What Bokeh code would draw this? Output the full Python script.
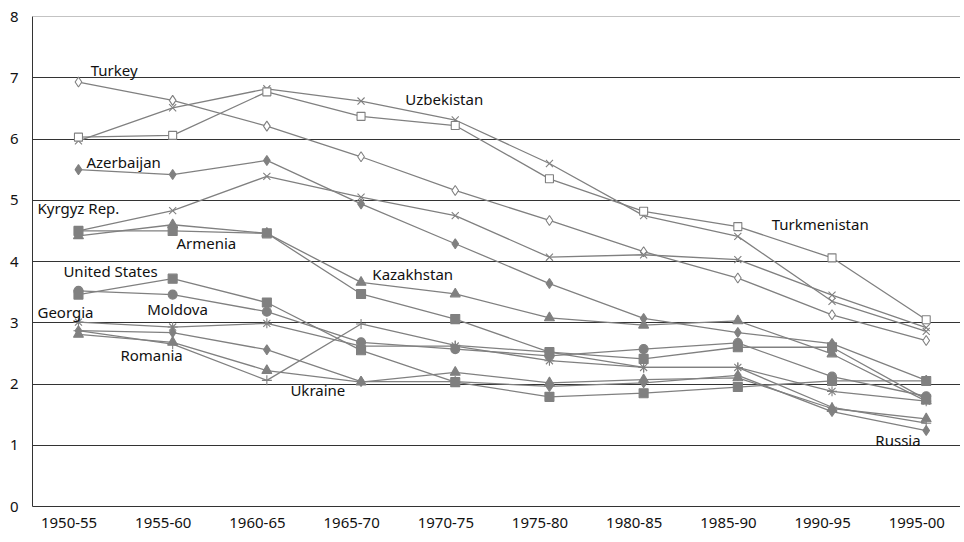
from bokeh.plotting import figure
from bokeh.models import Range1d, FixedTicker, Span, ColumnDataSource
from bokeh.core.properties import value
from bokeh.embed import file_html
from bokeh.resources import INLINE

periods = ["1950-55", "1955-60", "1960-65", "1965-70", "1970-75",
           "1975-80", "1980-85", "1985-90", "1990-95", "1995-00"]

turkey       = [6.93, 6.63, 6.21, 5.71, 5.16, 4.67, 4.16, 3.73, 3.13, 2.71]
uzbekistan   = [5.97, 6.51, 6.82, 6.62, 6.31, 5.60, 4.75, 4.41, 3.35, 2.86]
turkmenistan = [6.03, 6.06, 6.77, 6.37, 6.22, 5.35, 4.82, 4.57, 4.06, 3.05]
azerbaijan   = [5.50, 5.42, 5.65, 4.94, 4.29, 3.64, 3.07, 2.84, 2.66, 2.06]
kyrgyz       = [4.50, 4.83, 5.39, 5.05, 4.75, 4.07, 4.11, 4.03, 3.45, 2.92]
kazakhstan   = [4.42, 4.60, 4.46, 3.66, 3.47, 3.08, 2.96, 3.03, 2.49, 1.72]
armenia      = [4.50, 4.50, 4.46, 3.47, 3.06, 2.52, 2.41, 2.60, 2.60, 1.75]
usa          = [3.46, 3.72, 3.33, 2.55, 2.03, 1.79, 1.85, 1.95, 2.05, 2.05]
moldova      = [3.52, 3.46, 3.18, 2.68, 2.57, 2.46, 2.57, 2.67, 2.12, 1.80]
georgia      = [3.01, 2.93, 2.99, 2.62, 2.62, 2.38, 2.27, 2.27, 1.88, 1.72]
romania      = [2.87, 2.65, 2.06, 2.98, 2.63, 2.52, 2.27, 2.27, 1.62, 1.36]
ukraine      = [2.81, 2.68, 2.22, 2.03, 2.19, 2.02, 2.07, 2.10, 1.60, 1.43]
russia       = [2.87, 2.84, 2.56, 2.04, 2.04, 1.96, 2.02, 2.14, 1.55, 1.24]

y_ticks = [0, 1, 2, 3, 4, 5, 6, 7, 8]

# series: (values, marker, open?)
series = [
    (turkey, "diamond", True),
    (uzbekistan, "x", True),
    (turkmenistan, "square", True),
    (azerbaijan, "diamond", False),
    (kyrgyz, "x", True),
    (kazakhstan, "triangle", False),
    (armenia, "square", False),
    (usa, "square", False),
    (moldova, "circle", False),
    (georgia, "asterisk", True),
    (romania, "cross", True),
    (ukraine, "triangle", False),
    (russia, "diamond", False),
]

label_names = ["Turkey", "Uzbekistan", "Azerbaijan", "Kyrgyz Rep.", "Armenia",
               "Kazakhstan", "Turkmenistan", "United States", "Moldova",
               "Georgia", "Romania", "Ukraine", "Russia"]
label_x = [0.13, 3.47, 0.085, -0.435, 1.04, 3.12, 7.36, -0.16, 0.73,
           -0.435, 0.445, 2.25, 8.46]
label_y = [7.12, 6.66, 5.63, 4.88, 4.31, 3.80, 4.62, 3.85, 3.23,
           3.18, 2.48, 1.91, 1.08]

xs = list(range(len(periods)))
label_shift = -0.1
tick_pos = [i + label_shift for i in xs]

p = figure(width=960, height=540, output_backend="svg", toolbar_location=None,
           x_range=Range1d(-0.488, 9.364), y_range=Range1d(0, 8),
           min_border_left=32, min_border_right=0, min_border_top=16,
           min_border_bottom=34)
p.outline_line_color = None
p.background_fill_color = "white"
p.border_fill_color = "white"

p.xgrid.grid_line_color = None
p.ygrid.ticker = FixedTicker(ticks=y_ticks[1:-1])
p.ygrid.grid_line_color = "#333333"
p.ygrid.grid_line_width = 1

top = Span(location=8, dimension="width", line_color="#888888", line_width=1)
p.add_layout(top)

p.xaxis.ticker = FixedTicker(ticks=tick_pos)
p.xaxis.major_label_overrides = {t: s for t, s in zip(tick_pos, periods)}
p.yaxis.ticker = FixedTicker(ticks=y_ticks)
for ax in (p.xaxis, p.yaxis):
    ax.axis_line_color = "#333333"
    ax.axis_line_width = 1
    ax.major_tick_line_color = None
    ax.minor_tick_line_color = None
    ax.major_tick_out = 0
    ax.major_tick_in = 0
    ax.major_label_text_font = "Noto Sans"
    ax.major_label_text_font_size = "15px"
    ax.major_label_text_color = "#111111"
p.xaxis.major_label_standoff = 11
p.yaxis.major_label_standoff = 14

grey = "#808080"
for vals, marker, is_open in series:
    p.line(xs, vals, line_color=grey, line_width=1.3)
for vals, marker, is_open in series:
    if marker == "diamond":
        size = 10
    elif marker in ("x", "asterisk", "cross"):
        size = 10
    elif marker == "triangle":
        size = 10
    else:
        size = 8 if is_open else 9
    fill = "white" if is_open else grey
    if marker in ("x", "asterisk", "cross"):
        fill = None
    p.scatter(xs, vals, marker=marker, size=size, line_color=grey,
              fill_color=fill, line_width=1.1)

src = ColumnDataSource(dict(x=label_x, y=label_y, t=label_names))
p.text(x="x", y="y", text="t", source=src, text_align="left",
       text_baseline="middle", text_font=value("Noto Sans"),
       text_font_size="15px", text_color="#111111")

open("out.html", "w").write(file_html(p, INLINE))
